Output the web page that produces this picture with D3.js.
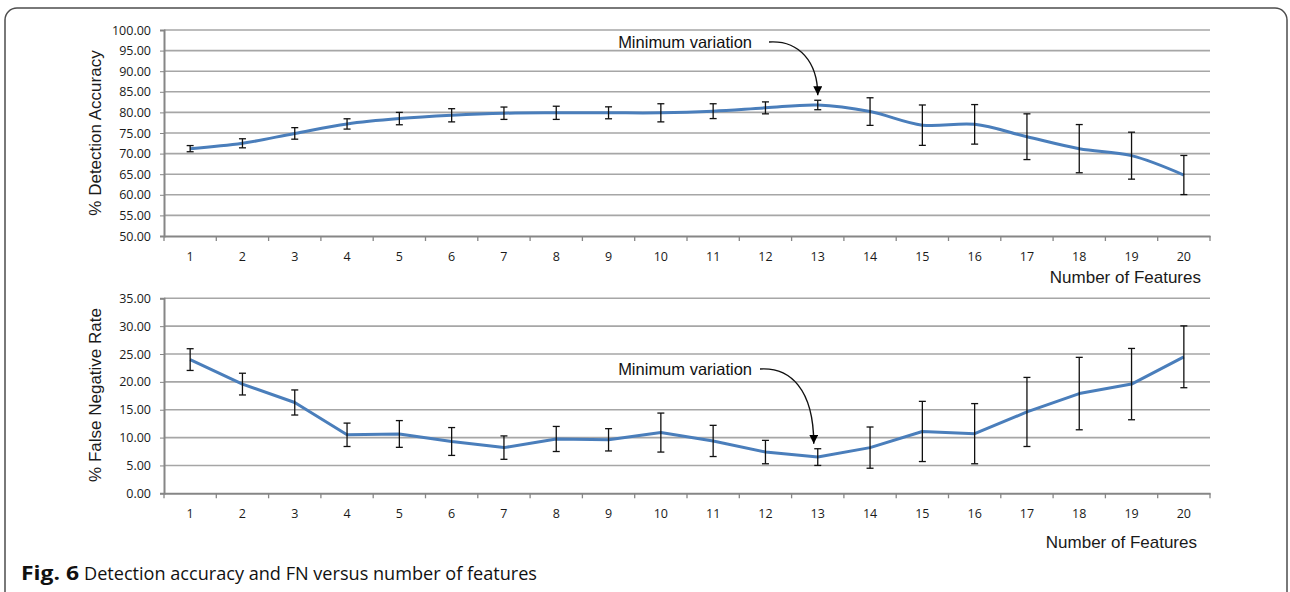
<!DOCTYPE html>
<html>
<head>
<meta charset="utf-8">
<script src="https://cdn.jsdelivr.net/npm/d3@7"></script>
<style>
  body { margin: 0; background: #fff; }
  svg { display: block; }
</style>
</head>
<body>
<svg id="chart" width="1290" height="592"></svg>
<script>
const features = [1, 2, 3, 4, 5, 6, 7, 8, 9, 10, 11, 12, 13, 14, 15, 16, 17, 18, 19, 20];
const accuracy = [71.2, 72.5, 74.9, 77.2, 78.5, 79.3, 79.8, 79.9, 79.9, 79.9, 80.3, 81.1, 81.8, 80.2, 76.9, 77.1, 74.1, 71.2, 69.5, 64.8];
const accuracyErr = [0.75, 1.1, 1.4, 1.25, 1.5, 1.6, 1.5, 1.6, 1.45, 2.2, 1.8, 1.45, 1.15, 3.35, 4.9, 4.8, 5.55, 5.85, 5.7, 4.75];
const fnRate = [24.0, 19.6, 16.3, 10.5, 10.65, 9.3, 8.2, 9.75, 9.6, 10.9, 9.4, 7.4, 6.5, 8.2, 11.1, 10.7, 14.6, 17.9, 19.6, 24.5];
const fnErr = [1.95, 1.95, 2.25, 2.1, 2.4, 2.5, 2.1, 2.25, 2.0, 3.5, 2.8, 2.1, 1.5, 3.7, 5.4, 5.4, 6.2, 6.5, 6.4, 5.55];
const minFeature = 13;

const svg = d3.select('#chart');

// figure frame, rounded at the top, runs off the bottom
svg.append('rect')
  .attr('x', 5).attr('y', 8)
  .attr('width', 1282).attr('height', 640)
  .attr('rx', 12)
  .attr('fill', 'none')
  .attr('stroke', '#4d4d4d')
  .attr('stroke-width', 1.5);

svg.append('defs')
  .append('marker')
  .attr('id', 'arrow')
  .attr('viewBox', '0 0 10 10')
  .attr('refX', 10)
  .attr('refY', 5)
  .attr('markerWidth', 9)
  .attr('markerHeight', 9)
  .attr('markerUnits', 'userSpaceOnUse')
  .attr('orient', 'auto')
  .append('path')
  .attr('d', 'M 0 0 L 10 5 L 0 10 z')
  .attr('fill', 'black');

const x = d3.scaleBand()
  .domain(features)
  .range([164, 1210])
  .padding(0);

function drawPanel(opts) {
  const y = d3.scaleLinear().domain(opts.domain).range(opts.range);
  const g = svg.append('g');
  const ticks = d3.range(opts.domain[0], opts.domain[1] + 0.001, 5);

  // gridlines
  g.append('g')
    .selectAll('line')
    .data(ticks.slice(1))
    .enter()
    .append('line')
    .attr('x1', x.range()[0])
    .attr('x2', x.range()[1])
    .attr('y1', function(d) { return y(d); })
    .attr('y2', function(d) { return y(d); })
    .attr('stroke', '#a6a6a6')
    .attr('stroke-width', 1.6);

  // y axis
  const yAxis = g.append('g')
    .attr('transform', 'translate(' + x.range()[0] + ',0)')
    .call(d3.axisLeft(y).tickValues(ticks).tickFormat(d3.format('.2f')).tickSize(4).tickPadding(9));
  // x axis, ticks on category boundaries
  const xAxis = g.append('g')
    .attr('transform', 'translate(0,' + y(opts.domain[0]) + ')')
    .call(d3.axisBottom(x).tickSize(0).tickPadding(opts.xPad));
  xAxis.selectAll('.tick')
    .append('line')
    .attr('x1', x.bandwidth() / 2)
    .attr('x2', x.bandwidth() / 2)
    .attr('y2', 5)
    .attr('stroke', '#868686')
    .attr('stroke-width', 1.3);
  xAxis.append('line')
    .attr('x1', x.range()[0]).attr('x2', x.range()[0])
    .attr('y2', 5)
    .attr('stroke', '#868686')
    .attr('stroke-width', 1.3);

  [yAxis, xAxis].forEach(function(ax) {
    ax.select('.domain').attr('stroke', '#868686').attr('stroke-width', 2);
    ax.selectAll('.tick line').attr('stroke', '#868686');
    ax.selectAll('text')
      .attr('fill', '#1a1a1a')
      .style('font-family', '"Open Sans", sans-serif')
      .style('font-size', '12.5px');
  });

  // y axis title
  g.append('text')
    .attr('transform', 'translate(101,' + opts.titleY + ') rotate(-90)')
    .attr('text-anchor', 'middle')
    .attr('fill', '#1a1a1a')
    .style('font-family', '"Liberation Sans", Arial, sans-serif')
    .style('font-size', '17px')
    .text(opts.yTitle);

  g.append('text')
    .attr('x', opts.xTitleX)
    .attr('y', opts.xTitleY)
    .attr('text-anchor', 'end')
    .attr('fill', '#1a1a1a')
    .style('font-family', '"Liberation Sans", Arial, sans-serif')
    .style('font-size', '17px')
    .text('Number of Features');

  const cx = function(i) { return x(features[i]) + x.bandwidth() / 2; };

  const line = d3.line()
    .x(function(d, i) { return cx(i); })
    .y(function(d) { return y(d); })
    .curve(opts.curve);

  g.append('path')
    .datum(opts.values)
    .attr('fill', 'none')
    .attr('stroke', '#4a7ebb')
    .attr('stroke-width', 3)
    .attr('stroke-linejoin', 'round')
    .attr('d', line);

  // error bars
  const bars = g.append('g')
    .selectAll('g')
    .data(opts.values)
    .enter()
    .append('g')
    .attr('stroke', '#111')
    .attr('stroke-width', 1.3);
  bars.append('line')
    .attr('x1', function(d, i) { return cx(i); })
    .attr('x2', function(d, i) { return cx(i); })
    .attr('y1', function(d, i) { return y(d + opts.errors[i]); })
    .attr('y2', function(d, i) { return y(d - opts.errors[i]); });
  bars.append('line')
    .attr('x1', function(d, i) { return cx(i) - 3.5; })
    .attr('x2', function(d, i) { return cx(i) + 3.5; })
    .attr('y1', function(d, i) { return y(d + opts.errors[i]); })
    .attr('y2', function(d, i) { return y(d + opts.errors[i]); });
  bars.append('line')
    .attr('x1', function(d, i) { return cx(i) - 3.5; })
    .attr('x2', function(d, i) { return cx(i) + 3.5; })
    .attr('y1', function(d, i) { return y(d - opts.errors[i]); })
    .attr('y2', function(d, i) { return y(d - opts.errors[i]); });

  // annotation pointing at the minimum variation point
  const k = features.indexOf(minFeature);
  const tipX = cx(k) + opts.tipDx;
  const tipY = y(opts.values[k] + opts.errors[k]) - 5;
  g.append('text')
    .attr('x', 752)
    .attr('y', opts.noteY)
    .attr('text-anchor', 'end')
    .attr('fill', '#111')
    .style('font-family', '"Liberation Sans", Arial, sans-serif')
    .style('font-size', '16.5px')
    .text('Minimum variation');
  const sx = opts.noteStartX;
  const sy = opts.noteY - 6;
  g.append('path')
    .attr('d', 'M' + sx + ',' + sy +
      ' C' + (sx + 30) + ',' + (sy - 2) + ' ' + tipX + ',' + (sy + 20) + ' ' + tipX + ',' + tipY)
    .attr('fill', 'none')
    .attr('stroke', '#111')
    .attr('stroke-width', 1.4)
    .attr('marker-end', 'url(#arrow)');
}

drawPanel({
  values: accuracy,
  errors: accuracyErr,
  domain: [50, 100],
  range: [236, 30],
  yTitle: '% Detection Accuracy',
  titleY: 133,
  xPad: 16,
  xTitleX: 1201,
  xTitleY: 283,
  curve: d3.curveCatmullRom.alpha(0.5),
  noteY: 48,
  noteStartX: 769,
  tipDx: 0
});

drawPanel({
  values: fnRate,
  errors: fnErr,
  domain: [0, 35],
  range: [493.3, 298.3],
  yTitle: '% False Negative Rate',
  titleY: 395,
  xPad: 16,
  xTitleX: 1197,
  xTitleY: 548,
  curve: d3.curveLinear,
  noteY: 375,
  noteStartX: 760,
  tipDx: -4
});

// caption
svg.append('text')
  .attr('x', 21)
  .attr('y', 580)
  .attr('fill', '#111')
  .attr('textLength', 58)
  .attr('lengthAdjust', 'spacingAndGlyphs')
  .style('font-family', '"Open Sans", sans-serif')
  .style('font-weight', 'bold')
  .style('font-size', '19px')
  .text('Fig. 6');
svg.append('text')
  .attr('x', 84)
  .attr('y', 580)
  .attr('fill', '#111')
  .attr('textLength', 453)
  .attr('lengthAdjust', 'spacingAndGlyphs')
  .style('font-family', '"Open Sans", sans-serif')
  .style('font-size', '19px')
  .text('Detection accuracy and FN versus number of features');
</script>
</body>
</html>
